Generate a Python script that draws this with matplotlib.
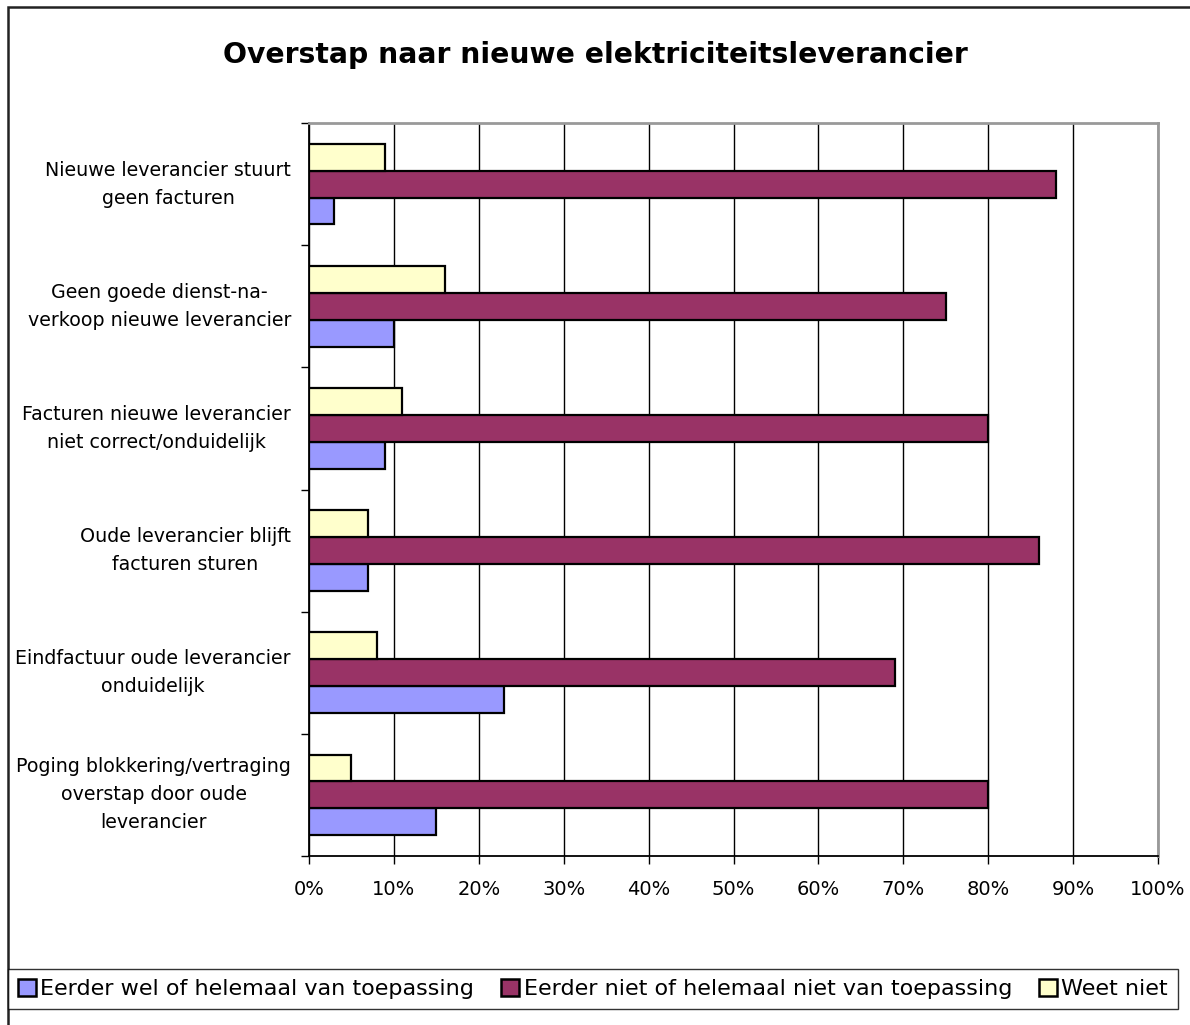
import numpy as np
import matplotlib
matplotlib.use("Agg")
import matplotlib.pyplot as plt
from matplotlib.patches import Rectangle

plt.rcParams['font.family'] = ['DejaVu Sans']

categories = [
    "Nieuwe leverancier stuurt\ngeen facturen",
    "Geen goede dienst-na-\nverkoop nieuwe leverancier",
    "Facturen nieuwe leverancier\nniet correct/onduidelijk",
    "Oude leverancier blijft\nfacturen sturen",
    "Eindfactuur oude leverancier\nonduidelijk",
    "Poging blokkering/vertraging\noverstap door oude\nleverancier",
]
series_names = [
    "Eerder wel of helemaal van toepassing",
    "Eerder niet of helemaal niet van toepassing",
    "Weet niet",
]
wel = [3, 10, 9, 7, 23, 15]
niet = [88, 75, 80, 86, 69, 80]
weet = [9, 16, 11, 7, 8, 5]
colors = ["#9999FF", "#993366", "#FFFFCC"]

fig = plt.figure(figsize=(11.9, 10.25), dpi=100)
ax = fig.add_axes([309 / 1190, 1 - 856 / 1025, (1158 - 309) / 1190, (856 - 123) / 1025])

y = np.arange(len(categories))
h = 0.22
series = [wel, niet, weet]
# within each group: weet on top, niet in the middle, wel at the bottom
for i, (vals, col, name) in enumerate(zip(series, colors, series_names)):
    ax.barh(y + (1 - i) * h, vals, height=h, color=col, edgecolor="black",
            linewidth=1.6, label=name, zorder=3)

ax.set_xlim(0, 100)
ax.set_ylim(len(categories) - 0.5, -0.5)
ax.set_xticks(np.arange(0, 101, 10))
ax.set_xticklabels([f"{v}%" for v in range(0, 101, 10)], fontsize=14)
ax.xaxis.grid(True, color="black", linewidth=1.0, zorder=0)
ax.tick_params(axis="x", length=6, width=1, pad=11)

ax.set_yticks(y)
ax.set_yticklabels(categories, fontsize=13.7, ha="right", multialignment="center",
                   linespacing=1.6)
for lbl in ax.get_yticklabels():
    lbl.set_va("center")
ax.tick_params(axis="y", length=0, pad=13)
ax.set_yticks(np.arange(-0.5, len(categories), 1), minor=True)
ax.tick_params(axis="y", which="minor", length=6, width=1)

for s in ["left", "bottom"]:
    ax.spines[s].set_color("black")
    ax.spines[s].set_linewidth(1.3)
for s in ["top", "right"]:
    ax.spines[s].set_color("#999999")
    ax.spines[s].set_linewidth(2)

fig.text(0.5, 1 - 55 / 1025, "Overstap naar nieuwe elektriciteitsleverancier",
         ha="center", va="center", fontsize=20.3, fontweight="bold")

leg = fig.legend(loc="lower left", bbox_to_anchor=(8 / 1190, 1 - 1009 / 1025, 1170 / 1190, 41 / 1025),
                 mode="expand", ncol=3, fontsize=16, frameon=True, fancybox=False,
                 handlelength=0.8, handleheight=0.8, handletextpad=0.2, columnspacing=0.5,
                 borderaxespad=0, borderpad=0.45)
leg.get_frame().set_edgecolor("black")
leg.get_frame().set_linewidth(1.0)
for p in leg.get_patches():
    p.set_linewidth(1.8)

fig.patches.append(Rectangle((8 / 1190, -0.1), 1.2, 1 - 7 / 1025 + 0.1, transform=fig.transFigure,
                             fill=False, edgecolor="#222222", linewidth=1.8))

fig.savefig("out.png", dpi=100)
